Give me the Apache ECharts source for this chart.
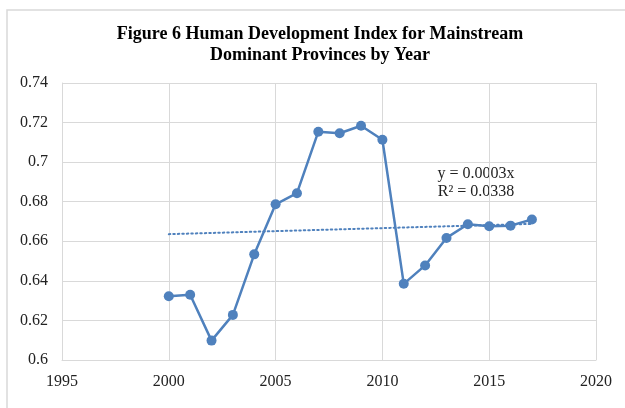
<!DOCTYPE html>
<html>
<head>
<meta charset="utf-8">
<script src="https://cdn.jsdelivr.net/npm/echarts@6/dist/echarts.min.js"></script>
<style>
html,body{margin:0;padding:0;background:#fff;}
#c{width:625px;height:408px;}
</style>
</head>
<body>
<div id="c"></div>
<script>
const years = [2000,2001,2002,2003,2004,2005,2006,2007,2008,2009,2010,2011,2012,2013,2014,2015,2016,2017];
const hdi = [0.6322,0.6330,0.6098,0.6228,0.6534,0.6787,0.6843,0.7154,0.7146,0.7184,0.7113,0.6385,0.6478,0.6617,0.6686,0.6676,0.6679,0.6710];
const trendYears = [2000,2017];
const trendValues = [0.6636,0.6688];
const titleLines = ['Figure 6 Human Development Index for Mainstream','Dominant Provinces by Year'];
const equationLines = ['y = 0.0003x','R² = 0.0338'];

const serif = '"Liberation Serif","Times New Roman",serif';
const chart = echarts.init(document.getElementById('c'));
chart.setOption({
  animation:false,
  backgroundColor:'#fff',
  graphic:[
    {type:'rect',shape:{x:7,y:10,width:700,height:500},style:{fill:'none',stroke:'#d9d9d9',lineWidth:1.5},silent:true,z:-1},
    {type:'text',x:320,y:24,style:{text:titleLines.join('\n'),font:'bold 18px '+serif,fill:'#000',textAlign:'center',lineHeight:21}},
    {type:'text',x:476,y:165,style:{text:equationLines.join('\n'),font:'16px '+serif,fill:'#222',textAlign:'center',lineHeight:18}}
  ],
  grid:{left:62,right:29,top:83,bottom:48,containLabel:false},
  xAxis:{type:'value',min:1995,max:2020,interval:5,
    axisLine:{show:true,lineStyle:{color:'#d9d9d9',width:1}},
    axisTick:{show:false},
    splitLine:{show:true,lineStyle:{color:'#d9d9d9',width:1}},
    axisLabel:{color:'#222',fontFamily:serif,fontSize:16,margin:14,formatter:v=>String(v)}},
  yAxis:{type:'value',min:0.6,max:0.74,interval:0.02,
    axisLine:{show:true,lineStyle:{color:'#d9d9d9',width:1}},
    axisTick:{show:false},
    splitLine:{show:true,lineStyle:{color:'#d9d9d9',width:1}},
    axisLabel:{color:'#222',fontFamily:serif,fontSize:16,margin:14,
      formatter:v=>String(parseFloat(v.toFixed(2)))}},
  series:[
    {type:'line',data:trendYears.map((x,i)=>[x,trendValues[i]]),showSymbol:false,symbol:'none',
      lineStyle:{color:'#4f81bd',width:2,type:[1.5,3],cap:'round'},z:1,silent:true},
    {type:'line',data:years.map((x,i)=>[x,hdi[i]]),symbol:'circle',symbolSize:10,
      itemStyle:{color:'#4f81bd'},lineStyle:{color:'#4f81bd',width:2.5},z:2}
  ]
});
</script>
</body>
</html>
